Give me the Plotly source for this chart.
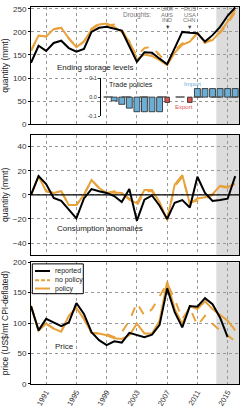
import plotly.graph_objects as go

years = list(range(1989, 2017))
price_years = list(range(1989, 2016))

storage_reported = [133, 170, 159, 176, 181, 165, 157, 163, 200, 209, 211, 207, 203, 169, 135, 156, 155, 142, 130, 165, 200, 198, 197, 179, 193, 211, 235, 253]
storage_policy = [159, 192, 190, 206, 209, 186, 167, 179, 205, 216, 218, 211, 200, 179, 140, 151, 148, 139, 128, 155, 172, 179, 198, 177, 182, 200, 222, 248]
storage_nopolicy = [159, 192, 190, 206, 209, 186, 167, 179, 207, 218, 214, 216, 205, 178, 148, 165, 168, 150, 130, 160, 175, 180, 196, 176, 185, 198, 218, 243]

cons_reported = [0, 15.6, 9, -2.5, -5, -12, -19.5, -3, 4.8, 3, 1.6, -1, -6, 4.8, -21.4, -4, -0.5, -9, -20, -6.5, -4.3, -10.5, 15, 1.6, -5, -4.3, -3.2, 15.6]
cons_policy = [0, 15.6, 3, 1.6, 3, -8.5, -8.5, 0, 12.4, 5.7, 1.6, 2, 1.6, -4, -7, 4, 4, -6, -21, 8.5, 16.4, -7.5, -3, -2, 0.5, 7.5, 6.5, 9]
cons_nopolicy = [0, 15.6, 3, 1.6, 3, -8.5, -8.5, 0, 12.4, 5.7, 1.6, 3, 1, -3, -9, 3, 3, -7, -20, 7, 15, -6, -5, -3, 0, 7, 6, 8]

price_reported = [128, 88, 107, 101, 95, 101, 133, 115, 85, 72, 64, 70, 68, 84, 81, 77, 81, 97, 157, 118, 93, 128, 127, 141, 131, 109, 77]
price_policy = [128, 88, 99, 91, 86, 112, 125, 107, 84, 83, 80, 75, 74, 80, 99, 83, 83, 104, 168, 123, 99, 128, 123, 136, 123, 113, 104, 88]
price_nopolicy = [128, 88, 99, 91, 86, 112, 125, 107, 84, 83, 82, 77, 85, 104, 133, 112, 123, 144, 165, 139, 107, 125, 96, 112, 99, 88, 80, 70]

import_years = [2000, 2001, 2002, 2003, 2004, 2005, 2006, 2011, 2012, 2013, 2014, 2015, 2016]
import_values = [-0.02, -0.038, -0.058, -0.077, -0.077, -0.077, -0.077, 0.045, 0.045, 0.045, 0.045, 0.045, 0.045]
export_years = [2007, 2010]
export_values = [-0.028, -0.028]

drought_years = [2007, 2010]
drought_labels = [["UKR", "AUS", "IND"], ["RUS", "USA", "CHN"]]

xtick_vals = [1991, 1995, 1999, 2003, 2007, 2011, 2015]
XR = [1989, 2016.5]
SHADE = [2013.5, 2016.5]

ORANGE = "#E9A23B"
BLUE = "#6BAED6"
RED = "#D9534F"
FONT = "Liberation Sans, Arial, sans-serif"

W, H = 243, 411
ML, MR, MT, MB = 31, 4, 3, 21
PW = W - ML - MR
PH = H - MT - MB


def px_x(x):
    return (x - ML) / PW


def px_y(y):
    return (H - MB - y) / PH


fig = go.Figure()

def add_lines(xa, ya, xs, rep, pol, nop, rep_x=None):
    fig.add_trace(go.Scatter(x=xs, y=nop, xaxis=xa, yaxis=ya, mode="lines",
                             line=dict(color=ORANGE, width=2, dash="dash"), showlegend=False))
    fig.add_trace(go.Scatter(x=xs, y=pol, xaxis=xa, yaxis=ya, mode="lines",
                             line=dict(color=ORANGE, width=2), showlegend=False))
    fig.add_trace(go.Scatter(x=rep_x if rep_x else xs, y=rep, xaxis=xa, yaxis=ya, mode="lines",
                             line=dict(color="black", width=2), showlegend=False))

add_lines("x", "y", years, storage_reported, storage_policy, storage_nopolicy)
add_lines("x2", "y2", years, cons_reported, cons_policy, cons_nopolicy)
add_lines("x3", "y3", years, price_reported, price_policy, price_nopolicy, rep_x=price_years)

# inset trade policy bars
fig.add_trace(go.Scatter(x=[1998.6, 2016.4], y=[0, 0], xaxis="x4", yaxis="y4", mode="lines",
                         line=dict(color="#555", width=1.5, dash="dash"), showlegend=False))
fig.add_trace(go.Bar(x=import_years, y=import_values, xaxis="x4", yaxis="y4", width=0.78,
                     marker=dict(color=BLUE, line=dict(color="#222", width=0.8)), showlegend=False))
fig.add_trace(go.Bar(x=export_years, y=export_values, xaxis="x4", yaxis="y4", width=0.6,
                     marker=dict(color=RED, line=dict(color="#222", width=0.8)), showlegend=False))

d1 = [px_y(123.3), 1.0]
d2 = [px_y(257.7), px_y(134)]
d3 = [0.0, px_y(265)]
d4 = [px_y(115), px_y(76)]

common_x = dict(range=XR, tickvals=xtick_vals, showgrid=True, gridcolor="#999", griddash="dot",
                gridwidth=1, showline=True, mirror=True, linecolor="black", linewidth=1,
                zeroline=False, ticks="", tickfont=dict(size=7.5, color="#333", family=FONT))
common_y = dict(showgrid=True, gridcolor="#999", griddash="dot", gridwidth=1, showline=True,
                mirror=True, linecolor="black", linewidth=1, zeroline=False, ticks="outside",
                ticklen=2, tickcolor="black", tickfont=dict(size=8, color="#333", family=FONT),
                title_font=dict(size=8.5, color="#222", family=FONT), title_standoff=3)

fig.update_layout(
    width=W, height=H, margin=dict(l=ML, r=MR, t=MT, b=MB),
    paper_bgcolor="white", plot_bgcolor="rgba(0,0,0,0)",
    font=dict(family=FONT, size=8, color="#222"),
    barmode="overlay", showlegend=False, hovermode=False,
    xaxis=dict(common_x, domain=[0, 1], anchor="y", showticklabels=False),
    xaxis2=dict(common_x, domain=[0, 1], anchor="y2", showticklabels=False),
    xaxis3=dict(common_x, domain=[0, 1], anchor="y3", showticklabels=True, tickangle=-60),
    xaxis4=dict(range=XR, domain=[0, 1], anchor="y4", visible=False, showgrid=False),
    yaxis=dict(common_y, domain=d1, range=[0, 254], tickvals=[0, 50, 100, 150, 200, 250],
               title_text="quantity (mmt)"),
    yaxis2=dict(common_y, domain=d2, range=[-50, 50], tickvals=[-40, -20, 0, 20, 40],
                title_text="quantity (mmt)"),
    yaxis3=dict(common_y, domain=d3, range=[0, 200], tickvals=[0, 50, 100, 150, 200],
                title_text="price (US$/mt CPI-deflated)"),
    yaxis4=dict(domain=d4, range=[-0.1, 0.1], anchor="free", position=px_x(100),
                showgrid=False, zeroline=False, showline=True, linecolor="black", linewidth=1,
                ticks="outside", ticklen=2, tickvals=[-0.1, 0, 0.1], ticktext=["-0.1", "0.0", "0.1"],
                tickfont=dict(size=5.5, color="#333", family=FONT)),
)

shapes = []
for ya in ["y", "y2", "y3"]:
    shapes.append(dict(type="rect", xref="x", yref=ya + " domain", x0=SHADE[0], x1=SHADE[1],
                       y0=0, y1=1, fillcolor="#dcdcdc", line=dict(width=0), layer="below"))
shapes.append(dict(type="line", xref="x2 domain", yref="y2", x0=0, x1=1, y0=0, y1=0,
                   line=dict(color="black", width=1.2)))
# manual legend
shapes.append(dict(type="rect", xref="paper", yref="paper", x0=px_x(32.3), x1=px_x(83.3),
                   y0=px_y(297.3), y1=px_y(266.7), line=dict(color="black", width=1),
                   fillcolor="white"))
legend_items = [("reported", "black", "solid", 274), ("no policy", ORANGE, "dash", 283.5),
                ("policy", ORANGE, "solid", 292)]
annotations = []
for name, col, dash, yy in legend_items:
    shapes.append(dict(type="line", xref="paper", yref="paper", x0=px_x(35), x1=px_x(50),
                       y0=px_y(yy), y1=px_y(yy), line=dict(color=col, width=2,
                       dash="4px,2px" if dash == "dash" else "solid")))
    annotations.append(dict(text=name, xref="paper", yref="paper", x=px_x(53), y=px_y(yy),
                            xanchor="left", yanchor="middle", showarrow=False,
                            font=dict(size=7, color="#222")))


def txt(t, x, y, size=8, color="#222", xanchor="left", xref="paper"):
    annotations.append(dict(text=t, xref=xref, yref="paper", x=x if xref == "x" else px_x(x),
                            y=px_y(y), xanchor=xanchor, yanchor="middle", showarrow=False,
                            font=dict(size=size, color=color)))

txt("Ending storage levels", 55, 65, 8)
txt("Droughts:", 152.5, 11, 6.5, "#777", "right")
for yr, labs in zip(drought_years, drought_labels):
    for i, lab in enumerate(labs):
        txt(lab, yr, 5.5 + 5.5 * i, 5.8, "#777", "center", xref="x")
    txt("▼", yr, 24, 5.5, "#444", "center", xref="x")
txt("Trade policies", 107, 83.5, 7)
txt("Import", 192, 82, 6, BLUE, "center")
txt("Export", 183.5, 106, 6, RED, "center")
txt("Consumption anomalies", 55, 230, 8)
txt("Price", 53, 351, 8)

fig.update_layout(shapes=shapes, annotations=annotations)
fig.write_html("out.html", config={"displayModeBar": False, "staticPlot": True},
               post_script="document.body.style.margin='0';document.body.style.overflow='hidden';")
